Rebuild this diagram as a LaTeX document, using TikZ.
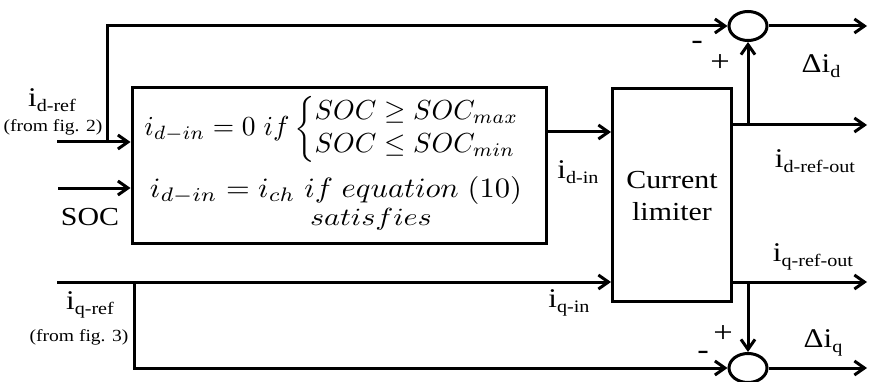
\documentclass[tikz,border=0pt]{standalone}
\usepackage{fontspec}
\setmainfont{Liberation Serif}[FakeStretch=1.15]
\usetikzlibrary{arrows.meta,shapes.geometric}
\newcommand{\sublab}[2]{{\fontsize{27}{27}\selectfont #1}{\fontsize{17.5}{17.5}\selectfont\raisebox{-5pt}{#2}}}
\begin{document}
\begin{tikzpicture}[x=1pt,y=-1pt,
  wire/.style={line width=3pt},
  arr/.style={wire,-{Straight Barb[length=10pt,width=14pt]}},
  blk/.style={draw,line width=3pt,rectangle,inner sep=0pt},
  sumnode/.style={draw,ellipse,line width=3pt,minimum width=38pt,minimum height=29pt,inner sep=0pt},
  lbl/.style={inner sep=0pt},
  big/.style={lbl,font=\fontsize{26}{28}\selectfont},
  small/.style={lbl,font=\fontsize{17}{19}\selectfont},
  sign/.style={lbl,font=\fontsize{30}{30}\selectfont}]
\useasboundingbox (0,0) rectangle (869,382);
% blocks
\node[blk,minimum width=414pt,minimum height=155pt] (box) at (339,165.5) {};
\node[blk,minimum width=119pt,minimum height=213pt] (lim) at (672,195) {};
\node[sumnode] (sum1) at (748,26) {};
\node[sumnode] (sum2) at (748,368) {};
% coordinates
\coordinate (idref) at (57,142);
\coordinate (brd) at (107,142);
\coordinate (soc) at (58,188);
\coordinate (yd) at (580,132);
\coordinate (iqref) at (57,282);
\coordinate (brq) at (134,282);
\coordinate (outd) at (867,125);
\coordinate (brdo) at (748,125);
\coordinate (outdd) at (867,26);
\coordinate (outq) at (867,282);
\coordinate (brqo) at (748,282);
\coordinate (outqq) at (867,368);
% connectors
\draw[arr] (idref) -- (idref -| box.west);
\draw[arr] (brd) |- (sum1.west);
\draw[arr] (soc) -- (soc -| box.west);
\draw[arr] (box.east |- yd) -- (lim.west |- yd);
\draw[arr] (iqref) -- (iqref -| lim.west);
\draw[arr] (brq) |- (sum2.west);
\draw[arr] (lim.east |- outd) -- (outd);
\draw[arr] (brdo) -- (brdo |- sum1.south);
\draw[arr] (sum1.east) -- (outdd);
\draw[arr] (lim.east |- outq) -- (outq);
\draw[arr] (brqo) -- (brqo |- sum2.north);
\draw[arr] (sum2.east) -- (outqq);
% box text
\node[lbl] (l1) at (333,129) {\resizebox*{377pt}{66pt}{$i_{d-in}=0\ if\left\{\begin{array}{@{}l@{}}SOC\geq SOC_{max}\\ SOC\leq SOC_{min}\end{array}\right.$}};
\node[lbl] (l2) at (336,190) {\resizebox*{372pt}{28pt}{$i_{d-in}=i_{ch}\ if\ equation\ (10)$}};
\node[lbl] (l3) at (371,219) {\resizebox*{122pt}{22pt}{$satisfies$}};
% labels
\node[lbl] (tdref) at (52,100) {\sublab{i}{d-ref}};
\node[small] (tfig2) at (53,127) {(from fig. 2)};
\node[big] (tsoc) at (90,217) {SOC};
\node[lbl] (tqref) at (90,305) {\sublab{i}{q-ref}};
\node[small] (tfig3) at (79,337) {(from fig. 3)};
\node[lbl] (tdin) at (578,172) {\sublab{i}{d-in}};
\node[lbl] (tqin) at (569,303) {\sublab{i}{q-in}};
\node[big] (tcur) at (672,180) {Current};
\node[big] (tlimi) at (672,212) {limiter};
\node[lbl] (tdid) at (821,66) {\sublab{Δi}{d}};
\node[lbl] (tdro) at (815,161) {\sublab{i}{d-ref-out}};
\node[lbl] (tqro) at (813,257) {\sublab{i}{q-ref-out}};
\node[lbl] (tdiq) at (823,343) {\sublab{Δi}{q}};
\node[sign] (m1) at (697,45) {-};
\node[sign] (p1) at (720,63) {+};
\node[sign] (p2) at (723,334) {+};
\node[sign] (m2) at (703,355) {-};
\end{tikzpicture}
\end{document}
